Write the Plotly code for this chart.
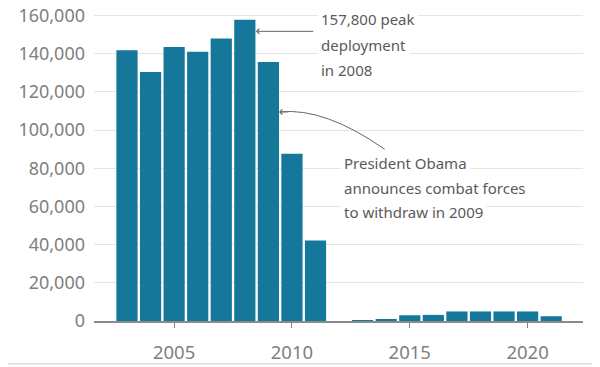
import plotly.graph_objects as go

# US troops deployed in Iraq, by year
years = list(range(2003, 2022))
troops = [141800, 130400, 143500, 141000, 147900, 157800, 135600, 87600, 42100,
          0, 150, 700, 3000, 3200, 5000, 5000, 5000, 5000, 2500]

tick_years = [2005, 2010, 2015, 2020]
y_ticks = list(range(0, 160001, 20000))
y_labels = [f"{v:,}" for v in y_ticks]

peak_lines = ["157,800 peak", "deployment", "in 2008"]
obama_lines = ["President Obama", "announces combat forces", "to withdraw in 2009"]

BAR = "#15789a"
GRID = "#e4e4e4"
TXT = "#5a5a5a"
TICK = "#808080"
FONT = "Noto Sans, sans-serif"

fig = go.Figure()
fig.add_trace(go.Bar(
    x=years, y=troops, marker=dict(color=BAR, line=dict(width=0)),
    hoverinfo="x+y", showlegend=False,
))

fig.update_xaxes(
    range=[2001.6, 2022.35], tickvals=tick_years, ticks="outside", ticklen=5,
    tickcolor=TICK, showgrid=False, showline=True, linecolor="#8a8a8a", linewidth=1.5,
    tickfont=dict(size=18.5, color=TICK), zeroline=False, automargin=False,
    ticklabelstandoff=9,
)
# range tops out a bit above 160,000 so the top gridline and its label stay on the page
fig.update_yaxes(
    range=[0, 161300], tickvals=y_ticks, ticktext=y_labels, showgrid=True,
    gridcolor=GRID, gridwidth=1, zeroline=False, ticks="", ticklen=0,
    ticklabelstandoff=8, ticklabeloverflow="allow",
    tickfont=dict(size=18, color=TICK), automargin=False,
)

# peak annotation: straight arrow, then the text one line at a time
fig.add_annotation(x=2008.47, y=151700, text="", showarrow=True, arrowhead=4,
                   arrowsize=1, arrowwidth=1, arrowcolor="#666", ax=59, ay=0)
for i, line in enumerate(peak_lines):
    fig.add_annotation(
        x=2011.05, y=158300 - i * 13530, xanchor="left", yanchor="middle",
        text=line, showarrow=False, font=dict(size=15, color=TXT, family=FONT),
        bgcolor="white", borderpad=3,
    )

# Obama annotation: curved arrow drawn as a path, head as a short annotation
fig.add_shape(type="path", xref="x", yref="y",
              path="M 2009.5,109500 Q 2011.4,111900 2013.95,89800",
              line=dict(color="#666", width=1))
fig.add_annotation(x=2009.45, y=109500, text="", showarrow=True, arrowhead=4,
                   arrowsize=1, arrowwidth=1, arrowcolor="#666", ax=10, ay=0)
for i, line in enumerate(obama_lines):
    fig.add_annotation(
        x=2012.02, y=82500 - i * 12760, xanchor="left", yanchor="middle",
        text=line, showarrow=False, font=dict(size=15, color=TXT, family=FONT),
        bgcolor="white", borderpad=3,
    )

# bottom rule
fig.add_shape(type="line", xref="paper", yref="paper", x0=-0.18, x1=1.03,
              y0=-0.139, y1=-0.139, line=dict(color="#cccccc", width=1))

# the page adds ~8px of body margin, so the plot box is pulled up and left
fig.update_layout(
    width=600, height=367, bargap=0.1,
    plot_bgcolor="white", paper_bgcolor="white",
    margin=dict(l=86, r=25, t=5, b=53.5),
    font=dict(family=FONT, size=16, color=TXT),
)

fig.write_html("out.html")
